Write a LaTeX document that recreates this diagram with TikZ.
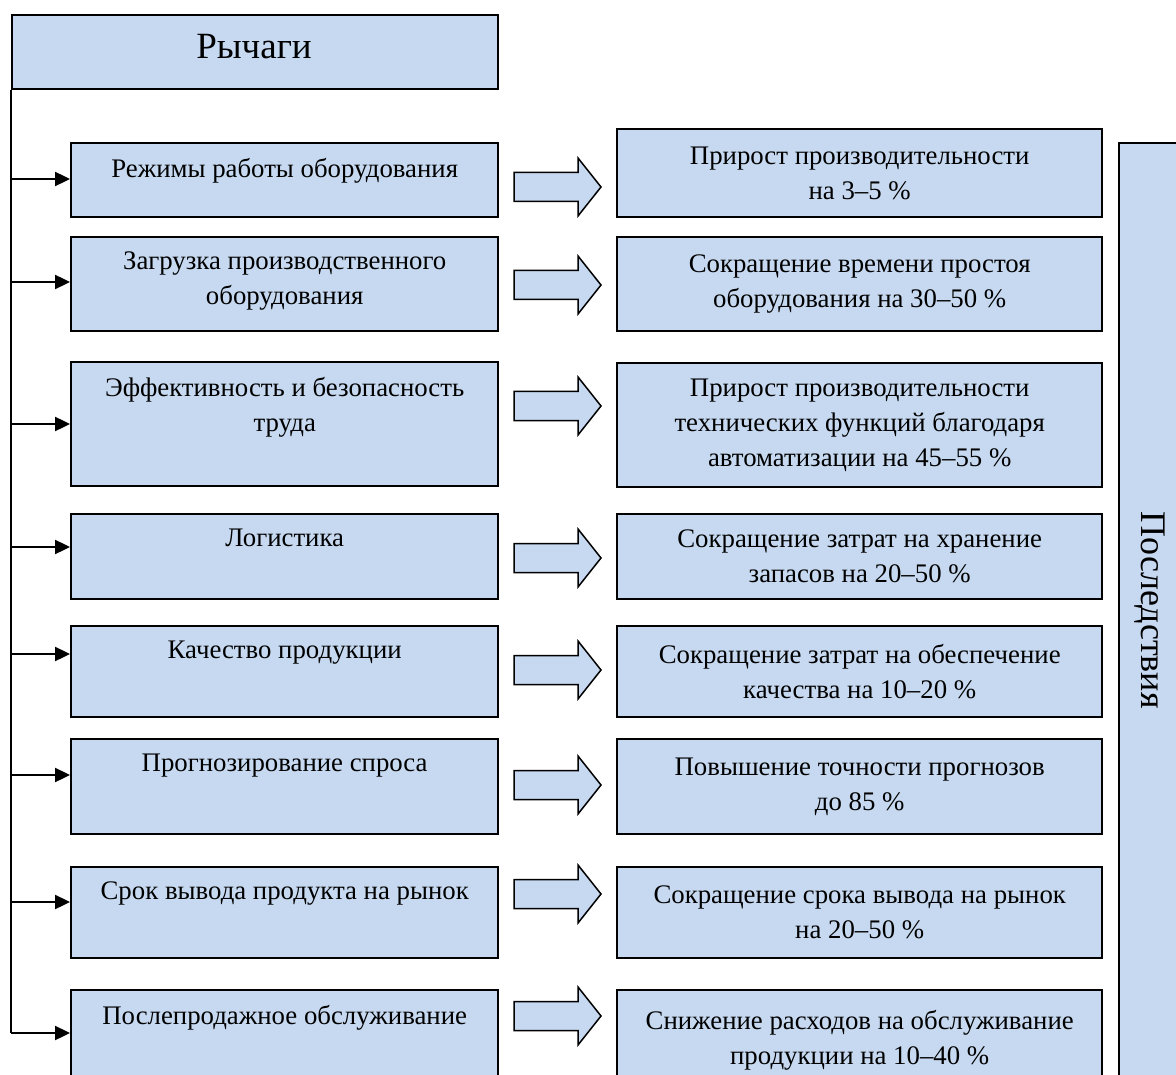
\documentclass[tikz,border=0pt]{standalone}
\usepackage{fontspec}
\setmainfont{Liberation Serif}
\usetikzlibrary{arrows.meta,calc}
\definecolor{boxblue}{HTML}{C6D9F0}
\begin{document}
\begin{tikzpicture}[x=1pt,y=-1pt,
  box/.style={draw=black, line width=2.4pt, fill=boxblue, rectangle, inner sep=0pt, anchor=north west},
  txt/.style={font=\fontsize{26.8}{35}\selectfont, align=center, inner sep=0pt},
  conn/.style={line width=2.4pt, -{Triangle[length=15pt,width=14pt]}},
  barrow/.style={draw=black, line width=1.5pt, fill=boxblue, line join=miter}]
\useasboundingbox (0,0) rectangle (1176,1075);
\clip (0,0) rectangle (1176,1075);

\newcommand\lbox[4]{%
  \node[box, minimum width=427pt, minimum height=#3pt] (#1) at (70,#2) {};
  \node[txt, anchor=north] (#1t) at ([yshift=-16pt]#1.north) {#4};}
\newcommand\rbox[4]{%
  \node[box, txt, minimum width=485pt, minimum height=#3pt] (#1) at (616,#2) {#4};}
\newcommand\barr[2]{%
  \draw[barrow] (514,#2-14.5) -- (578,#2-14.5) -- (578,#2-29) -- (601,#2)
    -- (578,#2+29) -- (578,#2+14.5) -- (514,#2+14.5) -- cycle;
  \coordinate (#1) at (557,#2);}

% title
\node[box, minimum width=486pt, minimum height=74pt] (top) at (11,14) {};
\node[font=\fontsize{37}{45}\selectfont, inner sep=0pt] (toptext) at (254,47) {Рычаги};

% left boxes
\lbox{l1}{142}{74}{Режимы работы оборудования}
\lbox{l2}{236}{94}{Загрузка производственного\\оборудования}
\lbox{l3}{361}{124}{Эффективность и безопасность\\труда}
\lbox{l4}{513}{85}{Логистика}
\lbox{l5}{625}{91}{Качество продукции}
\lbox{l6}{738}{95}{Прогнозирование спроса}
\lbox{l7}{866}{91}{Срок вывода продукта на рынок}
\lbox{l8}{989}{101}{Послепродажное обслуживание}

% right boxes
\rbox{r1}{128}{88}{Прирост производительности\\на 3–5~\%}
\rbox{r2}{236}{94}{Сокращение времени простоя\\оборудования на 30–50~\%}
\rbox{r3}{362}{124}{Прирост производительности\\технических функций благодаря\\автоматизации на 45–55~\%}
\rbox{r4}{513}{85}{Сокращение затрат на хранение\\запасов на 20–50~\%}
\rbox{r5}{625}{91}{Сокращение затрат на обеспечение\\качества на 10–20~\%}
\rbox{r6}{738}{95}{Повышение точности прогнозов\\до 85~\%}
\rbox{r7}{866}{91}{Сокращение срока вывода на рынок\\на 20–50~\%}
\rbox{r8}{989}{101}{Снижение расходов на обслуживание\\продукции на 10–40~\%}

% consequences box
\node[box, minimum width=80pt, minimum height=960pt] (cons) at (1118,142) {};
\node[font=\fontsize{36}{40}\selectfont, inner sep=0pt, rotate=-90] (const) at (1150,610) {Последствия};

% block arrows
\barr{b1}{187}
\barr{b2}{285}
\barr{b3}{406}
\barr{b4}{558}
\barr{b5}{670}
\barr{b6}{785}
\barr{b7}{894}
\barr{b8}{1016}

% trunk and connectors
\coordinate (j1) at (11,179);
\coordinate (j2) at (11,282);
\coordinate (j3) at (11,424);
\coordinate (j4) at (11,547);
\coordinate (j5) at (11,654);
\coordinate (j6) at (11,775);
\coordinate (j7) at (11,902);
\coordinate (j8) at (11,1033);
\draw[line width=2.4pt] (top.south west) -- (j8);
\foreach \i in {1,...,8} {
  \draw[conn] (j\i) -- (j\i -| l\i.west);
}
\end{tikzpicture}
\end{document}
